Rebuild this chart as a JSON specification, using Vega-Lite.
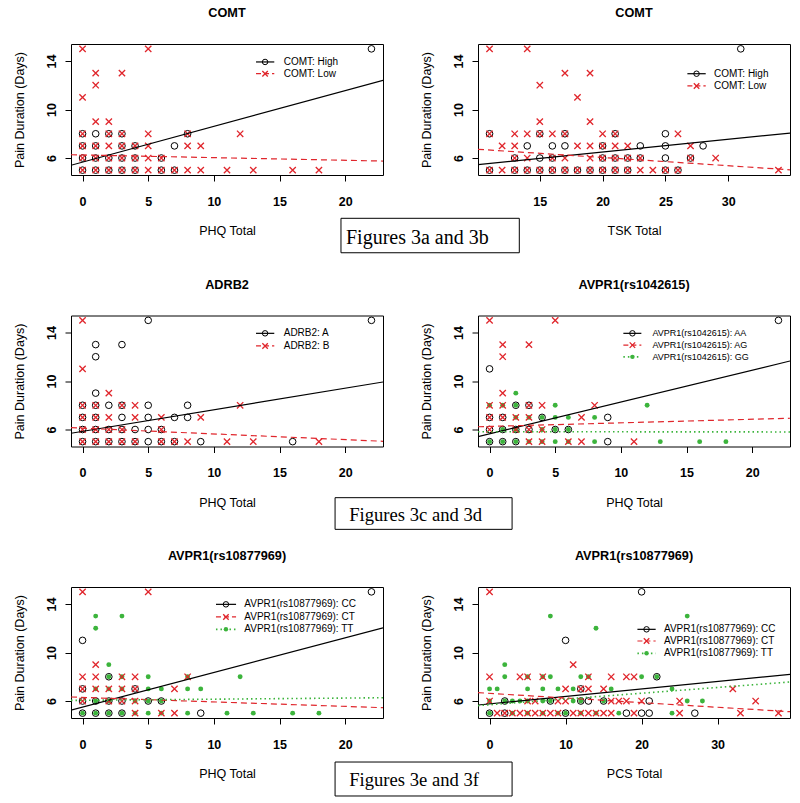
{
"$schema":"https://vega.github.io/schema/vega-lite/v6.json",
"background":"white",
"padding":{"left":12,"top":6,"right":5,"bottom":5},
"columns":2,
"bounds":"flush",
"spacing":{"row":140.5,"column":95},
"config":{
"view":{"stroke":"black","strokeWidth":1},
"font":"Liberation Sans",
"axis":{"domain":false,"grid":false,"tickColor":"black","tickSize":6,"tickWidth":1,"labelFont":"Liberation Sans","labelFontSize":12.5,"labelFontWeight":"bold","labelColor":"black","titleFont":"Liberation Sans","titleFontSize":12.5,"titleFontWeight":"normal","titleColor":"black","labelFlush":false,"labelOverlap":false},
"axisX":{"labelPadding":14,"titlePadding":17},
"axisY":{"labelAngle":-90,"labelAlign":"center","labelBaseline":"middle","labelPadding":14,"titlePadding":19},
"title":{"font":"Liberation Sans","fontSize":12.7,"fontWeight":"bold","color":"black","offset":23,"anchor":"middle"}
},
"datasets":{
"fits":[
{"p":1,"g":"High","x":-0.88,"y":5.4},{"p":1,"g":"High","x":22.88,"y":12.41},
{"p":1,"g":"Low","x":-0.88,"y":6.27},{"p":1,"g":"Low","x":22.88,"y":5.75},
{"p":2,"g":"High","x":10.08,"y":5.45},{"p":2,"g":"High","x":34.92,"y":8.06},
{"p":2,"g":"Low","x":10.08,"y":6.72},{"p":2,"g":"Low","x":34.92,"y":5.03},
{"p":3,"g":"A","x":-0.88,"y":5.69},{"p":3,"g":"A","x":22.88,"y":9.92},
{"p":3,"g":"B","x":-0.88,"y":6.15},{"p":3,"g":"B","x":22.88,"y":5.03},
{"p":4,"g":"AA","x":-0.88,"y":5.41},{"p":4,"g":"AA","x":22.88,"y":11.65},
{"p":4,"g":"AG","x":-0.88,"y":6.23},{"p":4,"g":"AG","x":22.88,"y":6.93},
{"p":4,"g":"GG","x":-0.88,"y":5.82},{"p":4,"g":"GG","x":22.88,"y":5.8},
{"p":5,"g":"CC","x":-0.88,"y":5.24},{"p":5,"g":"CC","x":22.88,"y":12.04},
{"p":5,"g":"CT","x":-0.88,"y":6.33},{"p":5,"g":"CT","x":22.88,"y":5.45},
{"p":5,"g":"TT","x":-0.88,"y":6.05},{"p":5,"g":"TT","x":22.88,"y":6.27},
{"p":6,"g":"CC","x":-1.52,"y":5.67},{"p":6,"g":"CC","x":39.52,"y":8.2},
{"p":6,"g":"CT","x":-1.52,"y":6.69},{"p":6,"g":"CT","x":39.52,"y":5.12},
{"p":6,"g":"TT","x":-1.52,"y":5.62},{"p":6,"g":"TT","x":39.52,"y":7.57}
],
"pts":[
{"p":1,"g":"High","x":22,"y":15},{"p":1,"g":"High","x":0,"y":8},{"p":1,"g":"High","x":1,"y":8},{"p":1,"g":"High","x":2,"y":8},{"p":1,"g":"High","x":3,"y":8},{"p":1,"g":"High","x":8,"y":8},{"p":1,"g":"High","x":0,"y":7},{"p":1,"g":"High","x":1,"y":7},{"p":1,"g":"High","x":3,"y":7},{"p":1,"g":"High","x":4,"y":7},{"p":1,"g":"High","x":7,"y":7},{"p":1,"g":"High","x":0,"y":6},{"p":1,"g":"High","x":1,"y":6},{"p":1,"g":"High","x":2,"y":6},{"p":1,"g":"High","x":3,"y":6},{"p":1,"g":"High","x":4,"y":6},{"p":1,"g":"High","x":6,"y":6},{"p":1,"g":"High","x":0,"y":5},{"p":1,"g":"High","x":1,"y":5},{"p":1,"g":"High","x":2,"y":5},{"p":1,"g":"High","x":3,"y":5},{"p":1,"g":"High","x":4,"y":5},{"p":1,"g":"High","x":6,"y":5},{"p":1,"g":"High","x":7,"y":5},
{"p":1,"g":"Low","x":0,"y":15},{"p":1,"g":"Low","x":5,"y":15},{"p":1,"g":"Low","x":1,"y":13},{"p":1,"g":"Low","x":3,"y":13},{"p":1,"g":"Low","x":1,"y":12},{"p":1,"g":"Low","x":0,"y":11},{"p":1,"g":"Low","x":1,"y":9},{"p":1,"g":"Low","x":2,"y":9},{"p":1,"g":"Low","x":0,"y":8},{"p":1,"g":"Low","x":2,"y":8},{"p":1,"g":"Low","x":3,"y":8},{"p":1,"g":"Low","x":5,"y":8},{"p":1,"g":"Low","x":8,"y":8},{"p":1,"g":"Low","x":12,"y":8},{"p":1,"g":"Low","x":0,"y":7},{"p":1,"g":"Low","x":1,"y":7},{"p":1,"g":"Low","x":2,"y":7},{"p":1,"g":"Low","x":3,"y":7},{"p":1,"g":"Low","x":4,"y":7},{"p":1,"g":"Low","x":5,"y":7},{"p":1,"g":"Low","x":8,"y":7},{"p":1,"g":"Low","x":9,"y":7},{"p":1,"g":"Low","x":0,"y":6},{"p":1,"g":"Low","x":1,"y":6},{"p":1,"g":"Low","x":2,"y":6},{"p":1,"g":"Low","x":3,"y":6},{"p":1,"g":"Low","x":4,"y":6},{"p":1,"g":"Low","x":5,"y":6},{"p":1,"g":"Low","x":6,"y":6},{"p":1,"g":"Low","x":0,"y":5},{"p":1,"g":"Low","x":1,"y":5},{"p":1,"g":"Low","x":2,"y":5},{"p":1,"g":"Low","x":3,"y":5},{"p":1,"g":"Low","x":4,"y":5},{"p":1,"g":"Low","x":5,"y":5},{"p":1,"g":"Low","x":6,"y":5},{"p":1,"g":"Low","x":7,"y":5},{"p":1,"g":"Low","x":8,"y":5},{"p":1,"g":"Low","x":9,"y":5},{"p":1,"g":"Low","x":11,"y":5},{"p":1,"g":"Low","x":13,"y":5},{"p":1,"g":"Low","x":16,"y":5},{"p":1,"g":"Low","x":18,"y":5},
{"p":2,"g":"High","x":31,"y":15},{"p":2,"g":"High","x":11,"y":8},{"p":2,"g":"High","x":15,"y":8},{"p":2,"g":"High","x":17,"y":8},{"p":2,"g":"High","x":21,"y":8},{"p":2,"g":"High","x":25,"y":8},{"p":2,"g":"High","x":14,"y":7},{"p":2,"g":"High","x":16,"y":7},{"p":2,"g":"High","x":17,"y":7},{"p":2,"g":"High","x":20,"y":7},{"p":2,"g":"High","x":23,"y":7},{"p":2,"g":"High","x":25,"y":7},{"p":2,"g":"High","x":28,"y":7},{"p":2,"g":"High","x":13,"y":6},{"p":2,"g":"High","x":15,"y":6},{"p":2,"g":"High","x":16,"y":6},{"p":2,"g":"High","x":20,"y":6},{"p":2,"g":"High","x":21,"y":6},{"p":2,"g":"High","x":22,"y":6},{"p":2,"g":"High","x":23,"y":6},{"p":2,"g":"High","x":25,"y":6},{"p":2,"g":"High","x":27,"y":6},{"p":2,"g":"High","x":11,"y":5},{"p":2,"g":"High","x":13,"y":5},{"p":2,"g":"High","x":14,"y":5},{"p":2,"g":"High","x":15,"y":5},{"p":2,"g":"High","x":16,"y":5},{"p":2,"g":"High","x":17,"y":5},{"p":2,"g":"High","x":18,"y":5},{"p":2,"g":"High","x":19,"y":5},{"p":2,"g":"High","x":20,"y":5},{"p":2,"g":"High","x":21,"y":5},{"p":2,"g":"High","x":22,"y":5},{"p":2,"g":"High","x":25,"y":5},{"p":2,"g":"High","x":26,"y":5},
{"p":2,"g":"Low","x":11,"y":15},{"p":2,"g":"Low","x":14,"y":15},{"p":2,"g":"Low","x":17,"y":13},{"p":2,"g":"Low","x":19,"y":13},{"p":2,"g":"Low","x":15,"y":12},{"p":2,"g":"Low","x":18,"y":11},{"p":2,"g":"Low","x":15,"y":9},{"p":2,"g":"Low","x":19,"y":9},{"p":2,"g":"Low","x":11,"y":8},{"p":2,"g":"Low","x":13,"y":8},{"p":2,"g":"Low","x":14,"y":8},{"p":2,"g":"Low","x":15,"y":8},{"p":2,"g":"Low","x":16,"y":8},{"p":2,"g":"Low","x":17,"y":8},{"p":2,"g":"Low","x":20,"y":8},{"p":2,"g":"Low","x":21,"y":8},{"p":2,"g":"Low","x":26,"y":8},{"p":2,"g":"Low","x":12,"y":7},{"p":2,"g":"Low","x":13,"y":7},{"p":2,"g":"Low","x":18,"y":7},{"p":2,"g":"Low","x":19,"y":7},{"p":2,"g":"Low","x":20,"y":7},{"p":2,"g":"Low","x":21,"y":7},{"p":2,"g":"Low","x":22,"y":7},{"p":2,"g":"Low","x":27,"y":7},{"p":2,"g":"Low","x":13,"y":6},{"p":2,"g":"Low","x":14,"y":6},{"p":2,"g":"Low","x":16,"y":6},{"p":2,"g":"Low","x":17,"y":6},{"p":2,"g":"Low","x":19,"y":6},{"p":2,"g":"Low","x":20,"y":6},{"p":2,"g":"Low","x":21,"y":6},{"p":2,"g":"Low","x":22,"y":6},{"p":2,"g":"Low","x":23,"y":6},{"p":2,"g":"Low","x":27,"y":6},{"p":2,"g":"Low","x":29,"y":6},{"p":2,"g":"Low","x":11,"y":5},{"p":2,"g":"Low","x":12,"y":5},{"p":2,"g":"Low","x":13,"y":5},{"p":2,"g":"Low","x":14,"y":5},{"p":2,"g":"Low","x":15,"y":5},{"p":2,"g":"Low","x":16,"y":5},{"p":2,"g":"Low","x":17,"y":5},{"p":2,"g":"Low","x":18,"y":5},{"p":2,"g":"Low","x":19,"y":5},{"p":2,"g":"Low","x":20,"y":5},{"p":2,"g":"Low","x":21,"y":5},{"p":2,"g":"Low","x":22,"y":5},{"p":2,"g":"Low","x":23,"y":5},{"p":2,"g":"Low","x":24,"y":5},{"p":2,"g":"Low","x":25,"y":5},{"p":2,"g":"Low","x":26,"y":5},{"p":2,"g":"Low","x":34,"y":5},
{"p":3,"g":"A","x":5,"y":15},{"p":3,"g":"A","x":22,"y":15},{"p":3,"g":"A","x":1,"y":13},{"p":3,"g":"A","x":3,"y":13},{"p":3,"g":"A","x":1,"y":12},{"p":3,"g":"A","x":1,"y":9},{"p":3,"g":"A","x":0,"y":8},{"p":3,"g":"A","x":1,"y":8},{"p":3,"g":"A","x":2,"y":8},{"p":3,"g":"A","x":3,"y":8},{"p":3,"g":"A","x":5,"y":8},{"p":3,"g":"A","x":8,"y":8},{"p":3,"g":"A","x":0,"y":7},{"p":3,"g":"A","x":1,"y":7},{"p":3,"g":"A","x":3,"y":7},{"p":3,"g":"A","x":5,"y":7},{"p":3,"g":"A","x":7,"y":7},{"p":3,"g":"A","x":8,"y":7},{"p":3,"g":"A","x":0,"y":6},{"p":3,"g":"A","x":1,"y":6},{"p":3,"g":"A","x":2,"y":6},{"p":3,"g":"A","x":3,"y":6},{"p":3,"g":"A","x":4,"y":6},{"p":3,"g":"A","x":5,"y":6},{"p":3,"g":"A","x":6,"y":6},{"p":3,"g":"A","x":0,"y":5},{"p":3,"g":"A","x":1,"y":5},{"p":3,"g":"A","x":2,"y":5},{"p":3,"g":"A","x":3,"y":5},{"p":3,"g":"A","x":4,"y":5},{"p":3,"g":"A","x":5,"y":5},{"p":3,"g":"A","x":6,"y":5},{"p":3,"g":"A","x":7,"y":5},{"p":3,"g":"A","x":9,"y":5},{"p":3,"g":"A","x":16,"y":5},
{"p":3,"g":"B","x":0,"y":15},{"p":3,"g":"B","x":0,"y":11},{"p":3,"g":"B","x":2,"y":9},{"p":3,"g":"B","x":0,"y":8},{"p":3,"g":"B","x":1,"y":8},{"p":3,"g":"B","x":3,"y":8},{"p":3,"g":"B","x":4,"y":8},{"p":3,"g":"B","x":12,"y":8},{"p":3,"g":"B","x":0,"y":7},{"p":3,"g":"B","x":1,"y":7},{"p":3,"g":"B","x":2,"y":7},{"p":3,"g":"B","x":4,"y":7},{"p":3,"g":"B","x":6,"y":7},{"p":3,"g":"B","x":9,"y":7},{"p":3,"g":"B","x":0,"y":6},{"p":3,"g":"B","x":1,"y":6},{"p":3,"g":"B","x":2,"y":6},{"p":3,"g":"B","x":3,"y":6},{"p":3,"g":"B","x":6,"y":6},{"p":3,"g":"B","x":0,"y":5},{"p":3,"g":"B","x":1,"y":5},{"p":3,"g":"B","x":2,"y":5},{"p":3,"g":"B","x":3,"y":5},{"p":3,"g":"B","x":4,"y":5},{"p":3,"g":"B","x":6,"y":5},{"p":3,"g":"B","x":7,"y":5},{"p":3,"g":"B","x":8,"y":5},{"p":3,"g":"B","x":11,"y":5},{"p":3,"g":"B","x":13,"y":5},{"p":3,"g":"B","x":18,"y":5},
{"p":4,"g":"AA","x":22,"y":15},{"p":4,"g":"AA","x":0,"y":11},{"p":4,"g":"AA","x":2,"y":8},{"p":4,"g":"AA","x":3,"y":8},{"p":4,"g":"AA","x":0,"y":7},{"p":4,"g":"AA","x":1,"y":7},{"p":4,"g":"AA","x":4,"y":7},{"p":4,"g":"AA","x":9,"y":7},{"p":4,"g":"AA","x":0,"y":6},{"p":4,"g":"AA","x":1,"y":6},{"p":4,"g":"AA","x":2,"y":6},{"p":4,"g":"AA","x":3,"y":6},{"p":4,"g":"AA","x":5,"y":6},{"p":4,"g":"AA","x":6,"y":6},{"p":4,"g":"AA","x":0,"y":5},{"p":4,"g":"AA","x":1,"y":5},{"p":4,"g":"AA","x":2,"y":5},{"p":4,"g":"AA","x":9,"y":5},
{"p":4,"g":"AG","x":0,"y":15},{"p":4,"g":"AG","x":5,"y":15},{"p":4,"g":"AG","x":1,"y":13},{"p":4,"g":"AG","x":3,"y":13},{"p":4,"g":"AG","x":1,"y":12},{"p":4,"g":"AG","x":1,"y":9},{"p":4,"g":"AG","x":0,"y":8},{"p":4,"g":"AG","x":1,"y":8},{"p":4,"g":"AG","x":3,"y":8},{"p":4,"g":"AG","x":4,"y":8},{"p":4,"g":"AG","x":8,"y":8},{"p":4,"g":"AG","x":0,"y":7},{"p":4,"g":"AG","x":1,"y":7},{"p":4,"g":"AG","x":2,"y":7},{"p":4,"g":"AG","x":3,"y":7},{"p":4,"g":"AG","x":7,"y":7},{"p":4,"g":"AG","x":0,"y":6},{"p":4,"g":"AG","x":2,"y":6},{"p":4,"g":"AG","x":3,"y":6},{"p":4,"g":"AG","x":4,"y":6},{"p":4,"g":"AG","x":3,"y":5},{"p":4,"g":"AG","x":4,"y":5},{"p":4,"g":"AG","x":6,"y":5},{"p":4,"g":"AG","x":7,"y":5},{"p":4,"g":"AG","x":11,"y":5},
{"p":4,"g":"GG","x":2,"y":9},{"p":4,"g":"GG","x":0,"y":8},{"p":4,"g":"GG","x":1,"y":8},{"p":4,"g":"GG","x":2,"y":8},{"p":4,"g":"GG","x":5,"y":8},{"p":4,"g":"GG","x":12,"y":8},{"p":4,"g":"GG","x":2,"y":7},{"p":4,"g":"GG","x":3,"y":7},{"p":4,"g":"GG","x":4,"y":7},{"p":4,"g":"GG","x":5,"y":7},{"p":4,"g":"GG","x":6,"y":7},{"p":4,"g":"GG","x":8,"y":7},{"p":4,"g":"GG","x":1,"y":6},{"p":4,"g":"GG","x":2,"y":6},{"p":4,"g":"GG","x":4,"y":6},{"p":4,"g":"GG","x":5,"y":6},{"p":4,"g":"GG","x":6,"y":6},{"p":4,"g":"GG","x":0,"y":5},{"p":4,"g":"GG","x":1,"y":5},{"p":4,"g":"GG","x":2,"y":5},{"p":4,"g":"GG","x":3,"y":5},{"p":4,"g":"GG","x":4,"y":5},{"p":4,"g":"GG","x":5,"y":5},{"p":4,"g":"GG","x":6,"y":5},{"p":4,"g":"GG","x":8,"y":5},{"p":4,"g":"GG","x":13,"y":5},{"p":4,"g":"GG","x":16,"y":5},{"p":4,"g":"GG","x":18,"y":5},
{"p":5,"g":"CC","x":22,"y":15},{"p":5,"g":"CC","x":0,"y":11},{"p":5,"g":"CC","x":2,"y":8},{"p":5,"g":"CC","x":0,"y":7},{"p":5,"g":"CC","x":4,"y":7},{"p":5,"g":"CC","x":0,"y":6},{"p":5,"g":"CC","x":1,"y":6},{"p":5,"g":"CC","x":2,"y":6},{"p":5,"g":"CC","x":3,"y":6},{"p":5,"g":"CC","x":5,"y":6},{"p":5,"g":"CC","x":6,"y":6},{"p":5,"g":"CC","x":0,"y":5},{"p":5,"g":"CC","x":1,"y":5},{"p":5,"g":"CC","x":2,"y":5},{"p":5,"g":"CC","x":3,"y":5},{"p":5,"g":"CC","x":9,"y":5},
{"p":5,"g":"CT","x":0,"y":15},{"p":5,"g":"CT","x":5,"y":15},{"p":5,"g":"CT","x":1,"y":9},{"p":5,"g":"CT","x":0,"y":8},{"p":5,"g":"CT","x":1,"y":8},{"p":5,"g":"CT","x":3,"y":8},{"p":5,"g":"CT","x":4,"y":8},{"p":5,"g":"CT","x":8,"y":8},{"p":5,"g":"CT","x":0,"y":7},{"p":5,"g":"CT","x":1,"y":7},{"p":5,"g":"CT","x":2,"y":7},{"p":5,"g":"CT","x":3,"y":7},{"p":5,"g":"CT","x":4,"y":7},{"p":5,"g":"CT","x":7,"y":7},{"p":5,"g":"CT","x":0,"y":6},{"p":5,"g":"CT","x":2,"y":6},{"p":5,"g":"CT","x":3,"y":6},{"p":5,"g":"CT","x":4,"y":6},{"p":5,"g":"CT","x":4,"y":5},{"p":5,"g":"CT","x":6,"y":5},{"p":5,"g":"CT","x":7,"y":5},
{"p":5,"g":"TT","x":1,"y":13},{"p":5,"g":"TT","x":3,"y":13},{"p":5,"g":"TT","x":1,"y":12},{"p":5,"g":"TT","x":2,"y":9},{"p":5,"g":"TT","x":2,"y":8},{"p":5,"g":"TT","x":3,"y":8},{"p":5,"g":"TT","x":5,"y":8},{"p":5,"g":"TT","x":8,"y":8},{"p":5,"g":"TT","x":12,"y":8},{"p":5,"g":"TT","x":1,"y":7},{"p":5,"g":"TT","x":2,"y":7},{"p":5,"g":"TT","x":3,"y":7},{"p":5,"g":"TT","x":5,"y":7},{"p":5,"g":"TT","x":6,"y":7},{"p":5,"g":"TT","x":8,"y":7},{"p":5,"g":"TT","x":9,"y":7},{"p":5,"g":"TT","x":1,"y":6},{"p":5,"g":"TT","x":2,"y":6},{"p":5,"g":"TT","x":4,"y":6},{"p":5,"g":"TT","x":5,"y":6},{"p":5,"g":"TT","x":6,"y":6},{"p":5,"g":"TT","x":0,"y":5},{"p":5,"g":"TT","x":1,"y":5},{"p":5,"g":"TT","x":2,"y":5},{"p":5,"g":"TT","x":3,"y":5},{"p":5,"g":"TT","x":4,"y":5},{"p":5,"g":"TT","x":5,"y":5},{"p":5,"g":"TT","x":6,"y":5},{"p":5,"g":"TT","x":8,"y":5},{"p":5,"g":"TT","x":11,"y":5},{"p":5,"g":"TT","x":13,"y":5},{"p":5,"g":"TT","x":16,"y":5},{"p":5,"g":"TT","x":18,"y":5},
{"p":6,"g":"CC","x":20,"y":15},{"p":6,"g":"CC","x":10,"y":11},{"p":6,"g":"CC","x":22,"y":8},{"p":6,"g":"CC","x":12,"y":7},{"p":6,"g":"CC","x":2,"y":6},{"p":6,"g":"CC","x":8,"y":6},{"p":6,"g":"CC","x":12,"y":6},{"p":6,"g":"CC","x":13,"y":6},{"p":6,"g":"CC","x":15,"y":6},{"p":6,"g":"CC","x":21,"y":6},{"p":6,"g":"CC","x":0,"y":5},{"p":6,"g":"CC","x":2,"y":5},{"p":6,"g":"CC","x":10,"y":5},{"p":6,"g":"CC","x":18,"y":5},{"p":6,"g":"CC","x":20,"y":5},{"p":6,"g":"CC","x":21,"y":5},{"p":6,"g":"CC","x":27,"y":5},
{"p":6,"g":"CT","x":0,"y":15},{"p":6,"g":"CT","x":11,"y":9},{"p":6,"g":"CT","x":0,"y":8},{"p":6,"g":"CT","x":4,"y":8},{"p":6,"g":"CT","x":5,"y":8},{"p":6,"g":"CT","x":7,"y":8},{"p":6,"g":"CT","x":13,"y":8},{"p":6,"g":"CT","x":16,"y":8},{"p":6,"g":"CT","x":18,"y":8},{"p":6,"g":"CT","x":19,"y":8},{"p":6,"g":"CT","x":10,"y":7},{"p":6,"g":"CT","x":12,"y":7},{"p":6,"g":"CT","x":13,"y":7},{"p":6,"g":"CT","x":15,"y":7},{"p":6,"g":"CT","x":32,"y":7},{"p":6,"g":"CT","x":0,"y":6},{"p":6,"g":"CT","x":5,"y":6},{"p":6,"g":"CT","x":6,"y":6},{"p":6,"g":"CT","x":9,"y":6},{"p":6,"g":"CT","x":10,"y":6},{"p":6,"g":"CT","x":16,"y":6},{"p":6,"g":"CT","x":17,"y":6},{"p":6,"g":"CT","x":18,"y":6},{"p":6,"g":"CT","x":20,"y":6},{"p":6,"g":"CT","x":25,"y":6},{"p":6,"g":"CT","x":35,"y":6},{"p":6,"g":"CT","x":1,"y":5},{"p":6,"g":"CT","x":2,"y":5},{"p":6,"g":"CT","x":3,"y":5},{"p":6,"g":"CT","x":4,"y":5},{"p":6,"g":"CT","x":5,"y":5},{"p":6,"g":"CT","x":6,"y":5},{"p":6,"g":"CT","x":7,"y":5},{"p":6,"g":"CT","x":8,"y":5},{"p":6,"g":"CT","x":9,"y":5},{"p":6,"g":"CT","x":11,"y":5},{"p":6,"g":"CT","x":12,"y":5},{"p":6,"g":"CT","x":13,"y":5},{"p":6,"g":"CT","x":14,"y":5},{"p":6,"g":"CT","x":15,"y":5},{"p":6,"g":"CT","x":16,"y":5},{"p":6,"g":"CT","x":19,"y":5},{"p":6,"g":"CT","x":25,"y":5},{"p":6,"g":"CT","x":33,"y":5},{"p":6,"g":"CT","x":38,"y":5},
{"p":6,"g":"TT","x":8,"y":13},{"p":6,"g":"TT","x":26,"y":13},{"p":6,"g":"TT","x":14,"y":12},{"p":6,"g":"TT","x":2,"y":9},{"p":6,"g":"TT","x":2,"y":8},{"p":6,"g":"TT","x":5,"y":8},{"p":6,"g":"TT","x":7,"y":8},{"p":6,"g":"TT","x":8,"y":8},{"p":6,"g":"TT","x":12,"y":8},{"p":6,"g":"TT","x":13,"y":8},{"p":6,"g":"TT","x":20,"y":8},{"p":6,"g":"TT","x":22,"y":8},{"p":6,"g":"TT","x":0,"y":7},{"p":6,"g":"TT","x":1,"y":7},{"p":6,"g":"TT","x":5,"y":7},{"p":6,"g":"TT","x":7,"y":7},{"p":6,"g":"TT","x":9,"y":7},{"p":6,"g":"TT","x":11,"y":7},{"p":6,"g":"TT","x":16,"y":7},{"p":6,"g":"TT","x":24,"y":7},{"p":6,"g":"TT","x":0,"y":6},{"p":6,"g":"TT","x":2,"y":6},{"p":6,"g":"TT","x":3,"y":6},{"p":6,"g":"TT","x":4,"y":6},{"p":6,"g":"TT","x":5,"y":6},{"p":6,"g":"TT","x":7,"y":6},{"p":6,"g":"TT","x":8,"y":6},{"p":6,"g":"TT","x":11,"y":6},{"p":6,"g":"TT","x":12,"y":6},{"p":6,"g":"TT","x":15,"y":6},{"p":6,"g":"TT","x":26,"y":6},{"p":6,"g":"TT","x":28,"y":6},{"p":6,"g":"TT","x":0,"y":5},{"p":6,"g":"TT","x":3,"y":5},{"p":6,"g":"TT","x":5,"y":5},{"p":6,"g":"TT","x":7,"y":5},{"p":6,"g":"TT","x":9,"y":5},{"p":6,"g":"TT","x":10,"y":5},{"p":6,"g":"TT","x":12,"y":5},{"p":6,"g":"TT","x":14,"y":5},{"p":6,"g":"TT","x":17,"y":5},{"p":6,"g":"TT","x":24,"y":5}
]
},
"concat":[
{"width":312,"height":131,"title":"COMT",
"layer":[
{"data":{"name":"pts"},"transform":[{"filter":"datum.p==1&&datum.g=='High'"}],"mark":{"type":"point","shape":"circle","filled":false,"stroke":"black","strokeWidth":1,"size":44,"opacity":1},"encoding":{"x":{"field":"x","type":"quantitative","scale":{"domain":[-0.88,22.88],"nice":false,"zero":false},"axis":{"values":[0,5,10,15,20],"title":"PHQ Total"}},"y":{"field":"y","type":"quantitative","scale":{"domain":[4.6,15.4],"nice":false,"zero":false},"axis":{"values":[6,8,10,12,14],"labelExpr":"datum.value==12?'':datum.label","title":"Pain Duration (Days)"}}}},
{"data":{"name":"pts"},"transform":[{"filter":"datum.p==1&&datum.g=='Low'"}],"mark":{"type":"point","shape":"M-1,-1L1,1M-1,1L1,-1","filled":false,"stroke":"#e0262c","strokeWidth":1.3,"size":40,"opacity":1},"encoding":{"x":{"field":"x","type":"quantitative"},"y":{"field":"y","type":"quantitative"}}},
{"data":{"name":"fits"},"transform":[{"filter":"datum.p==1&&datum.g=='High'"}],"mark":{"type":"line","color":"black","strokeWidth":1.2,"clip":true},"encoding":{"x":{"field":"x","type":"quantitative"},"y":{"field":"y","type":"quantitative"}}},
{"data":{"name":"fits"},"transform":[{"filter":"datum.p==1&&datum.g=='Low'"}],"mark":{"type":"line","color":"#e0262c","strokeWidth":1.2,"strokeDash":[6,4],"clip":true},"encoding":{"x":{"field":"x","type":"quantitative"},"y":{"field":"y","type":"quantitative"}}},
{"data":{"values":[{}]},"mark":{"type":"rule","color":"black","strokeWidth":1.2},"encoding":{"x":{"datum":13.21},"x2":{"datum":14.6},"y":{"datum":13.92}}},
{"data":{"values":[{}]},"mark":{"type":"point","shape":"circle","filled":false,"stroke":"black","strokeWidth":1,"size":30,"opacity":1},"encoding":{"x":{"datum":13.9},"y":{"datum":13.92}}},
{"data":{"values":[{}]},"mark":{"type":"text","align":"left","baseline":"middle","fontSize":10,"color":"black"},"encoding":{"x":{"datum":15.32},"y":{"datum":13.92},"text":{"value":"COMT: High"}}},
{"data":{"values":[{}]},"mark":{"type":"rule","color":"#e0262c","strokeWidth":1.2,"strokeDash":[5,3]},"encoding":{"x":{"datum":13.21},"x2":{"datum":14.6},"y":{"datum":12.95}}},
{"data":{"values":[{}]},"mark":{"type":"point","shape":"M-1,-1L1,1M-1,1L1,-1","filled":false,"stroke":"#e0262c","strokeWidth":1.3,"size":30,"opacity":1},"encoding":{"x":{"datum":13.9},"y":{"datum":12.95}}},
{"data":{"values":[{}]},"mark":{"type":"text","align":"left","baseline":"middle","fontSize":10,"color":"black"},"encoding":{"x":{"datum":15.32},"y":{"datum":12.95},"text":{"value":"COMT: Low"}}},
{"data":{"values":[{}]},"mark":{"type":"rect","fill":"white","stroke":"black","strokeWidth":1,"clip":false},"encoding":{"x":{"datum":19.68},"x2":{"datum":33.26},"y":{"datum":1.03},"y2":{"datum":-1.81}}},
{"data":{"values":[{}]},"mark":{"type":"text","align":"left","baseline":"alphabetic","font":"Liberation Serif","fontSize":20,"color":"black","clip":false},"encoding":{"x":{"datum":20.06},"y":{"datum":-1.11},"text":{"value":"Figures 3a and 3b"}}}
]},
{"width":312,"height":131,"title":"COMT",
"layer":[
{"data":{"name":"pts"},"transform":[{"filter":"datum.p==2&&datum.g=='High'"}],"mark":{"type":"point","shape":"circle","filled":false,"stroke":"black","strokeWidth":1,"size":44,"opacity":1},"encoding":{"x":{"field":"x","type":"quantitative","scale":{"domain":[10.08,34.92],"nice":false,"zero":false},"axis":{"values":[15,20,25,30],"title":"TSK Total"}},"y":{"field":"y","type":"quantitative","scale":{"domain":[4.6,15.4],"nice":false,"zero":false},"axis":{"values":[6,8,10,12,14],"labelExpr":"datum.value==12?'':datum.label","title":"Pain Duration (Days)"}}}},
{"data":{"name":"pts"},"transform":[{"filter":"datum.p==2&&datum.g=='Low'"}],"mark":{"type":"point","shape":"M-1,-1L1,1M-1,1L1,-1","filled":false,"stroke":"#e0262c","strokeWidth":1.3,"size":40,"opacity":1},"encoding":{"x":{"field":"x","type":"quantitative"},"y":{"field":"y","type":"quantitative"}}},
{"data":{"name":"fits"},"transform":[{"filter":"datum.p==2&&datum.g=='High'"}],"mark":{"type":"line","color":"black","strokeWidth":1.2,"clip":true},"encoding":{"x":{"field":"x","type":"quantitative"},"y":{"field":"y","type":"quantitative"}}},
{"data":{"name":"fits"},"transform":[{"filter":"datum.p==2&&datum.g=='Low'"}],"mark":{"type":"line","color":"#e0262c","strokeWidth":1.2,"strokeDash":[6,4],"clip":true},"encoding":{"x":{"field":"x","type":"quantitative"},"y":{"field":"y","type":"quantitative"}}},
{"data":{"values":[{}]},"mark":{"type":"rule","color":"black","strokeWidth":1.2},"encoding":{"x":{"datum":26.75},"x2":{"datum":28.21},"y":{"datum":12.95}}},
{"data":{"values":[{}]},"mark":{"type":"point","shape":"circle","filled":false,"stroke":"black","strokeWidth":1,"size":30,"opacity":1},"encoding":{"x":{"datum":27.48},"y":{"datum":12.95}}},
{"data":{"values":[{}]},"mark":{"type":"text","align":"left","baseline":"middle","fontSize":10,"color":"black"},"encoding":{"x":{"datum":28.87},"y":{"datum":12.95},"text":{"value":"COMT: High"}}},
{"data":{"values":[{}]},"mark":{"type":"rule","color":"#e0262c","strokeWidth":1.2,"strokeDash":[5,3]},"encoding":{"x":{"datum":26.75},"x2":{"datum":28.21},"y":{"datum":11.94}}},
{"data":{"values":[{}]},"mark":{"type":"point","shape":"M-1,-1L1,1M-1,1L1,-1","filled":false,"stroke":"#e0262c","strokeWidth":1.3,"size":30,"opacity":1},"encoding":{"x":{"datum":27.48},"y":{"datum":11.94}}},
{"data":{"values":[{}]},"mark":{"type":"text","align":"left","baseline":"middle","fontSize":10,"color":"black"},"encoding":{"x":{"datum":28.87},"y":{"datum":11.94},"text":{"value":"COMT: Low"}}}
]},
{"width":312,"height":131,"title":"ADRB2",
"layer":[
{"data":{"name":"pts"},"transform":[{"filter":"datum.p==3&&datum.g=='A'"}],"mark":{"type":"point","shape":"circle","filled":false,"stroke":"black","strokeWidth":1,"size":44,"opacity":1},"encoding":{"x":{"field":"x","type":"quantitative","scale":{"domain":[-0.88,22.88],"nice":false,"zero":false},"axis":{"values":[0,5,10,15,20],"title":"PHQ Total"}},"y":{"field":"y","type":"quantitative","scale":{"domain":[4.6,15.4],"nice":false,"zero":false},"axis":{"values":[6,8,10,12,14],"labelExpr":"datum.value==12?'':datum.label","title":"Pain Duration (Days)"}}}},
{"data":{"name":"pts"},"transform":[{"filter":"datum.p==3&&datum.g=='B'"}],"mark":{"type":"point","shape":"M-1,-1L1,1M-1,1L1,-1","filled":false,"stroke":"#e0262c","strokeWidth":1.3,"size":40,"opacity":1},"encoding":{"x":{"field":"x","type":"quantitative"},"y":{"field":"y","type":"quantitative"}}},
{"data":{"name":"fits"},"transform":[{"filter":"datum.p==3&&datum.g=='A'"}],"mark":{"type":"line","color":"black","strokeWidth":1.2,"clip":true},"encoding":{"x":{"field":"x","type":"quantitative"},"y":{"field":"y","type":"quantitative"}}},
{"data":{"name":"fits"},"transform":[{"filter":"datum.p==3&&datum.g=='B'"}],"mark":{"type":"line","color":"#e0262c","strokeWidth":1.2,"strokeDash":[6,4],"clip":true},"encoding":{"x":{"field":"x","type":"quantitative"},"y":{"field":"y","type":"quantitative"}}},
{"data":{"values":[{}]},"mark":{"type":"rule","color":"black","strokeWidth":1.2},"encoding":{"x":{"datum":13.21},"x2":{"datum":14.6},"y":{"datum":13.93}}},
{"data":{"values":[{}]},"mark":{"type":"point","shape":"circle","filled":false,"stroke":"black","strokeWidth":1,"size":30,"opacity":1},"encoding":{"x":{"datum":13.9},"y":{"datum":13.93}}},
{"data":{"values":[{}]},"mark":{"type":"text","align":"left","baseline":"middle","fontSize":10,"color":"black"},"encoding":{"x":{"datum":15.32},"y":{"datum":13.93},"text":{"value":"ADRB2: A"}}},
{"data":{"values":[{}]},"mark":{"type":"rule","color":"#e0262c","strokeWidth":1.2,"strokeDash":[5,3]},"encoding":{"x":{"datum":13.21},"x2":{"datum":14.6},"y":{"datum":12.89}}},
{"data":{"values":[{}]},"mark":{"type":"point","shape":"M-1,-1L1,1M-1,1L1,-1","filled":false,"stroke":"#e0262c","strokeWidth":1.3,"size":30,"opacity":1},"encoding":{"x":{"datum":13.9},"y":{"datum":12.89}}},
{"data":{"values":[{}]},"mark":{"type":"text","align":"left","baseline":"middle","fontSize":10,"color":"black"},"encoding":{"x":{"datum":15.32},"y":{"datum":12.89},"text":{"value":"ADRB2: B"}}},
{"data":{"values":[{}]},"mark":{"type":"rect","fill":"white","stroke":"black","strokeWidth":1,"clip":false},"encoding":{"x":{"datum":19.23},"x2":{"datum":32.71},"y":{"datum":0.38},"y2":{"datum":-2.23}}},
{"data":{"values":[{}]},"mark":{"type":"text","align":"left","baseline":"alphabetic","font":"Liberation Serif","fontSize":18.6,"color":"black","clip":false},"encoding":{"x":{"datum":20.31},"y":{"datum":-1.54},"text":{"value":"Figures 3c and 3d"}}}
]},
{"width":312,"height":131,"title":"AVPR1(rs1042615)",
"layer":[
{"data":{"name":"pts"},"transform":[{"filter":"datum.p==4&&datum.g=='AA'"}],"mark":{"type":"point","shape":"circle","filled":false,"stroke":"black","strokeWidth":1,"size":44,"opacity":1},"encoding":{"x":{"field":"x","type":"quantitative","scale":{"domain":[-0.88,22.88],"nice":false,"zero":false},"axis":{"values":[0,5,10,15,20],"title":"PHQ Total"}},"y":{"field":"y","type":"quantitative","scale":{"domain":[4.6,15.4],"nice":false,"zero":false},"axis":{"values":[6,8,10,12,14],"labelExpr":"datum.value==12?'':datum.label","title":"Pain Duration (Days)"}}}},
{"data":{"name":"pts"},"transform":[{"filter":"datum.p==4&&datum.g=='GG'"}],"mark":{"type":"point","shape":"circle","filled":true,"fill":"#3cb43c","strokeWidth":0,"size":24,"opacity":1},"encoding":{"x":{"field":"x","type":"quantitative"},"y":{"field":"y","type":"quantitative"}}},
{"data":{"name":"pts"},"transform":[{"filter":"datum.p==4&&datum.g=='AG'"}],"mark":{"type":"point","shape":"M-1,-1L1,1M-1,1L1,-1","filled":false,"stroke":"#e0262c","strokeWidth":1.3,"size":40,"opacity":1},"encoding":{"x":{"field":"x","type":"quantitative"},"y":{"field":"y","type":"quantitative"}}},
{"data":{"name":"fits"},"transform":[{"filter":"datum.p==4&&datum.g=='AA'"}],"mark":{"type":"line","color":"black","strokeWidth":1.2,"clip":true},"encoding":{"x":{"field":"x","type":"quantitative"},"y":{"field":"y","type":"quantitative"}}},
{"data":{"name":"fits"},"transform":[{"filter":"datum.p==4&&datum.g=='AG'"}],"mark":{"type":"line","color":"#e0262c","strokeWidth":1.2,"strokeDash":[6,4],"clip":true},"encoding":{"x":{"field":"x","type":"quantitative"},"y":{"field":"y","type":"quantitative"}}},
{"data":{"name":"fits"},"transform":[{"filter":"datum.p==4&&datum.g=='GG'"}],"mark":{"type":"line","color":"#3cb43c","strokeWidth":1.6,"strokeDash":[1.5,3],"clip":true},"encoding":{"x":{"field":"x","type":"quantitative"},"y":{"field":"y","type":"quantitative"}}},
{"data":{"values":[{}]},"mark":{"type":"rule","color":"black","strokeWidth":1.2},"encoding":{"x":{"datum":10.19},"x2":{"datum":11.56},"y":{"datum":13.93}}},
{"data":{"values":[{}]},"mark":{"type":"point","shape":"circle","filled":false,"stroke":"black","strokeWidth":1,"size":30,"opacity":1},"encoding":{"x":{"datum":10.88},"y":{"datum":13.93}}},
{"data":{"values":[{}]},"mark":{"type":"text","align":"left","baseline":"middle","fontSize":9,"color":"black"},"encoding":{"x":{"datum":12.4},"y":{"datum":13.93},"text":{"value":"AVPR1(rs1042615): AA"}}},
{"data":{"values":[{}]},"mark":{"type":"rule","color":"#e0262c","strokeWidth":1.2,"strokeDash":[5,3]},"encoding":{"x":{"datum":10.19},"x2":{"datum":11.56},"y":{"datum":12.96}}},
{"data":{"values":[{}]},"mark":{"type":"point","shape":"M-1,-1L1,1M-1,1L1,-1","filled":false,"stroke":"#e0262c","strokeWidth":1.3,"size":30,"opacity":1},"encoding":{"x":{"datum":10.88},"y":{"datum":12.96}}},
{"data":{"values":[{}]},"mark":{"type":"text","align":"left","baseline":"middle","fontSize":9,"color":"black"},"encoding":{"x":{"datum":12.4},"y":{"datum":12.96},"text":{"value":"AVPR1(rs1042615): AG"}}},
{"data":{"values":[{}]},"mark":{"type":"rule","color":"#3cb43c","strokeWidth":1.6,"strokeDash":[1.5,3]},"encoding":{"x":{"datum":10.19},"x2":{"datum":11.56},"y":{"datum":11.99}}},
{"data":{"values":[{}]},"mark":{"type":"point","shape":"circle","filled":true,"fill":"#3cb43c","strokeWidth":0,"size":20,"opacity":1},"encoding":{"x":{"datum":10.88},"y":{"datum":11.99}}},
{"data":{"values":[{}]},"mark":{"type":"text","align":"left","baseline":"middle","fontSize":9,"color":"black"},"encoding":{"x":{"datum":12.4},"y":{"datum":11.99},"text":{"value":"AVPR1(rs1042615): GG"}}}
]},
{"width":312,"height":131,"title":"AVPR1(rs10877969)",
"layer":[
{"data":{"name":"pts"},"transform":[{"filter":"datum.p==5&&datum.g=='CC'"}],"mark":{"type":"point","shape":"circle","filled":false,"stroke":"black","strokeWidth":1,"size":44,"opacity":1},"encoding":{"x":{"field":"x","type":"quantitative","scale":{"domain":[-0.88,22.88],"nice":false,"zero":false},"axis":{"values":[0,5,10,15,20],"title":"PHQ Total"}},"y":{"field":"y","type":"quantitative","scale":{"domain":[4.6,15.4],"nice":false,"zero":false},"axis":{"values":[6,8,10,12,14],"labelExpr":"datum.value==12?'':datum.label","title":"Pain Duration (Days)"}}}},
{"data":{"name":"pts"},"transform":[{"filter":"datum.p==5&&datum.g=='TT'"}],"mark":{"type":"point","shape":"circle","filled":true,"fill":"#3cb43c","strokeWidth":0,"size":24,"opacity":1},"encoding":{"x":{"field":"x","type":"quantitative"},"y":{"field":"y","type":"quantitative"}}},
{"data":{"name":"pts"},"transform":[{"filter":"datum.p==5&&datum.g=='CT'"}],"mark":{"type":"point","shape":"M-1,-1L1,1M-1,1L1,-1","filled":false,"stroke":"#e0262c","strokeWidth":1.3,"size":40,"opacity":1},"encoding":{"x":{"field":"x","type":"quantitative"},"y":{"field":"y","type":"quantitative"}}},
{"data":{"name":"fits"},"transform":[{"filter":"datum.p==5&&datum.g=='CC'"}],"mark":{"type":"line","color":"black","strokeWidth":1.2,"clip":true},"encoding":{"x":{"field":"x","type":"quantitative"},"y":{"field":"y","type":"quantitative"}}},
{"data":{"name":"fits"},"transform":[{"filter":"datum.p==5&&datum.g=='CT'"}],"mark":{"type":"line","color":"#e0262c","strokeWidth":1.2,"strokeDash":[6,4],"clip":true},"encoding":{"x":{"field":"x","type":"quantitative"},"y":{"field":"y","type":"quantitative"}}},
{"data":{"name":"fits"},"transform":[{"filter":"datum.p==5&&datum.g=='TT'"}],"mark":{"type":"line","color":"#3cb43c","strokeWidth":1.6,"strokeDash":[1.5,3],"clip":true},"encoding":{"x":{"field":"x","type":"quantitative"},"y":{"field":"y","type":"quantitative"}}},
{"data":{"values":[{}]},"mark":{"type":"rule","color":"black","strokeWidth":1.2},"encoding":{"x":{"datum":10.16},"x2":{"datum":11.69},"y":{"datum":13.97}}},
{"data":{"values":[{}]},"mark":{"type":"point","shape":"circle","filled":false,"stroke":"black","strokeWidth":1,"size":30,"opacity":1},"encoding":{"x":{"datum":10.92},"y":{"datum":13.97}}},
{"data":{"values":[{}]},"mark":{"type":"text","align":"left","baseline":"middle","fontSize":10,"color":"black"},"encoding":{"x":{"datum":12.32},"y":{"datum":13.97},"text":{"value":"AVPR1(rs10877969): CC"}}},
{"data":{"values":[{}]},"mark":{"type":"rule","color":"#e0262c","strokeWidth":1.2,"strokeDash":[5,3]},"encoding":{"x":{"datum":10.16},"x2":{"datum":11.69},"y":{"datum":12.93}}},
{"data":{"values":[{}]},"mark":{"type":"point","shape":"M-1,-1L1,1M-1,1L1,-1","filled":false,"stroke":"#e0262c","strokeWidth":1.3,"size":30,"opacity":1},"encoding":{"x":{"datum":10.92},"y":{"datum":12.93}}},
{"data":{"values":[{}]},"mark":{"type":"text","align":"left","baseline":"middle","fontSize":10,"color":"black"},"encoding":{"x":{"datum":12.32},"y":{"datum":12.93},"text":{"value":"AVPR1(rs10877969): CT"}}},
{"data":{"values":[{}]},"mark":{"type":"rule","color":"#3cb43c","strokeWidth":1.6,"strokeDash":[1.5,3]},"encoding":{"x":{"datum":10.16},"x2":{"datum":11.69},"y":{"datum":11.91}}},
{"data":{"values":[{}]},"mark":{"type":"point","shape":"circle","filled":true,"fill":"#3cb43c","strokeWidth":0,"size":20,"opacity":1},"encoding":{"x":{"datum":10.92},"y":{"datum":11.91}}},
{"data":{"values":[{}]},"mark":{"type":"text","align":"left","baseline":"middle","fontSize":10,"color":"black"},"encoding":{"x":{"datum":12.32},"y":{"datum":11.91},"text":{"value":"AVPR1(rs10877969): TT"}}},
{"data":{"values":[{}]},"mark":{"type":"rect","fill":"white","stroke":"black","strokeWidth":1,"clip":false},"encoding":{"x":{"datum":19.23},"x2":{"datum":32.71},"y":{"datum":0.97},"y2":{"datum":-1.83}}},
{"data":{"values":[{}]},"mark":{"type":"text","align":"left","baseline":"alphabetic","font":"Liberation Serif","fontSize":18.6,"color":"black","clip":false},"encoding":{"x":{"datum":20.31},"y":{"datum":-1.01},"text":{"value":"Figures 3e and 3f"}}}
]},
{"width":312,"height":131,"title":"AVPR1(rs10877969)",
"layer":[
{"data":{"name":"pts"},"transform":[{"filter":"datum.p==6&&datum.g=='CC'"}],"mark":{"type":"point","shape":"circle","filled":false,"stroke":"black","strokeWidth":1,"size":44,"opacity":1},"encoding":{"x":{"field":"x","type":"quantitative","scale":{"domain":[-1.52,39.52],"nice":false,"zero":false},"axis":{"values":[0,10,20,30],"title":"PCS Total"}},"y":{"field":"y","type":"quantitative","scale":{"domain":[4.6,15.4],"nice":false,"zero":false},"axis":{"values":[6,8,10,12,14],"labelExpr":"datum.value==12?'':datum.label","title":"Pain Duration (Days)"}}}},
{"data":{"name":"pts"},"transform":[{"filter":"datum.p==6&&datum.g=='TT'"}],"mark":{"type":"point","shape":"circle","filled":true,"fill":"#3cb43c","strokeWidth":0,"size":24,"opacity":1},"encoding":{"x":{"field":"x","type":"quantitative"},"y":{"field":"y","type":"quantitative"}}},
{"data":{"name":"pts"},"transform":[{"filter":"datum.p==6&&datum.g=='CT'"}],"mark":{"type":"point","shape":"M-1,-1L1,1M-1,1L1,-1","filled":false,"stroke":"#e0262c","strokeWidth":1.3,"size":40,"opacity":1},"encoding":{"x":{"field":"x","type":"quantitative"},"y":{"field":"y","type":"quantitative"}}},
{"data":{"name":"fits"},"transform":[{"filter":"datum.p==6&&datum.g=='CC'"}],"mark":{"type":"line","color":"black","strokeWidth":1.2,"clip":true},"encoding":{"x":{"field":"x","type":"quantitative"},"y":{"field":"y","type":"quantitative"}}},
{"data":{"name":"fits"},"transform":[{"filter":"datum.p==6&&datum.g=='CT'"}],"mark":{"type":"line","color":"#e0262c","strokeWidth":1.2,"strokeDash":[6,4],"clip":true},"encoding":{"x":{"field":"x","type":"quantitative"},"y":{"field":"y","type":"quantitative"}}},
{"data":{"name":"fits"},"transform":[{"filter":"datum.p==6&&datum.g=='TT'"}],"mark":{"type":"line","color":"#3cb43c","strokeWidth":1.6,"strokeDash":[1.5,3],"clip":true},"encoding":{"x":{"field":"x","type":"quantitative"},"y":{"field":"y","type":"quantitative"}}},
{"data":{"values":[{}]},"mark":{"type":"rule","color":"black","strokeWidth":1.2},"encoding":{"x":{"datum":19.45},"x2":{"datum":21.85},"y":{"datum":11.91}}},
{"data":{"values":[{}]},"mark":{"type":"point","shape":"circle","filled":false,"stroke":"black","strokeWidth":1,"size":30,"opacity":1},"encoding":{"x":{"datum":20.65},"y":{"datum":11.91}}},
{"data":{"values":[{}]},"mark":{"type":"text","align":"left","baseline":"middle","fontSize":10,"color":"black"},"encoding":{"x":{"datum":22.94},"y":{"datum":11.91},"text":{"value":"AVPR1(rs10877969): CC"}}},
{"data":{"values":[{}]},"mark":{"type":"rule","color":"#e0262c","strokeWidth":1.2,"strokeDash":[5,3]},"encoding":{"x":{"datum":19.45},"x2":{"datum":21.85},"y":{"datum":10.95}}},
{"data":{"values":[{}]},"mark":{"type":"point","shape":"M-1,-1L1,1M-1,1L1,-1","filled":false,"stroke":"#e0262c","strokeWidth":1.3,"size":30,"opacity":1},"encoding":{"x":{"datum":20.65},"y":{"datum":10.95}}},
{"data":{"values":[{}]},"mark":{"type":"text","align":"left","baseline":"middle","fontSize":10,"color":"black"},"encoding":{"x":{"datum":22.94},"y":{"datum":10.95},"text":{"value":"AVPR1(rs10877969): CT"}}},
{"data":{"values":[{}]},"mark":{"type":"rule","color":"#3cb43c","strokeWidth":1.6,"strokeDash":[1.5,3]},"encoding":{"x":{"datum":19.45},"x2":{"datum":21.85},"y":{"datum":9.93}}},
{"data":{"values":[{}]},"mark":{"type":"point","shape":"circle","filled":true,"fill":"#3cb43c","strokeWidth":0,"size":20,"opacity":1},"encoding":{"x":{"datum":20.65},"y":{"datum":9.93}}},
{"data":{"values":[{}]},"mark":{"type":"text","align":"left","baseline":"middle","fontSize":10,"color":"black"},"encoding":{"x":{"datum":22.94},"y":{"datum":9.93},"text":{"value":"AVPR1(rs10877969): TT"}}}
]}
]
}
